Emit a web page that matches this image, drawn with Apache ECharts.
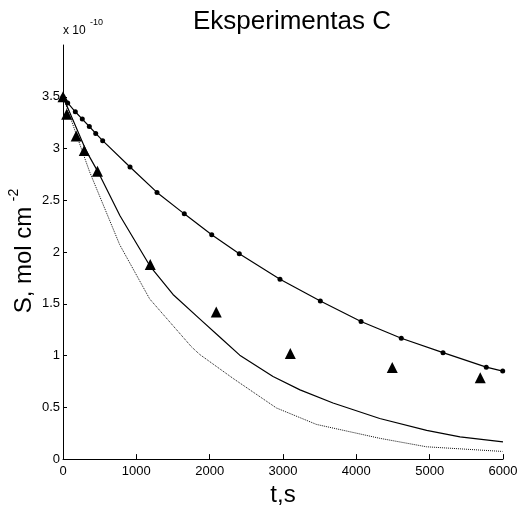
<!DOCTYPE html>
<html>
<head>
<meta charset="utf-8">
<script src="https://cdn.jsdelivr.net/npm/echarts@6/dist/echarts.min.js"></script>
<style>html,body{margin:0;padding:0;background:#fff;}#c{width:523px;height:512px;}</style>
</head>
<body>
<div id="c"></div>
<script>
// Triangles (measured points)
const triT = [0, 50, 180, 290, 470, 1190, 2090, 3100, 4490, 5690];
const triS = [3.5, 3.33, 3.12, 2.98, 2.78, 1.88, 1.42, 1.02, 0.885, 0.785];
// Dots with connecting line
const dotT = [0, 64, 168, 263, 359, 446, 541, 914, 1282, 1654, 2028, 2404, 2959, 3509, 4064, 4613, 5182, 5772, 5996];
const dotS = [3.5, 3.44, 3.355, 3.284, 3.213, 3.146, 3.076, 2.821, 2.576, 2.369, 2.168, 1.983, 1.738, 1.527, 1.329, 1.167, 1.028, 0.888, 0.85];
// Solid curve
const solT = [0, 314, 481, 777, 1186, 1500, 1864, 2137, 2410, 2864, 3232, 3682, 4319, 4959, 5414, 6000];
const solS = [3.5, 2.98, 2.77, 2.35, 1.865, 1.59, 1.355, 1.18, 1.004, 0.798, 0.669, 0.542, 0.392, 0.277, 0.214, 0.166];
// Dotted curve
const dotLineT = [0, 265, 364, 773, 1182, 1751, 1864, 2318, 2910, 3456, 4319, 4956, 5992];
const dotLineS = [3.5, 2.97, 2.773, 2.071, 1.547, 1.085, 1.011, 0.78, 0.494, 0.335, 0.201, 0.119, 0.074];
// Tick labels
const yTicks = [0, 0.5, 1, 1.5, 2, 2.5, 3, 3.5];
const xTicks = [0, 1000, 2000, 3000, 4000, 5000, 6000];

const zip = (a, b) => a.map((v, i) => [v, b[i]]);
const FONT = 'Liberation Sans, Arial, Helvetica, sans-serif';

const chart = echarts.init(document.getElementById('c'), null, {renderer: 'canvas'});
chart.setOption({
  backgroundColor: '#fff',
  animation: false,
  title: {
    text: 'Eksperimentas C',
    left: 193, top: 9, padding: 0,
    textStyle: {fontFamily: FONT, fontSize: 26, fontWeight: 'normal', color: '#000'}
  },
  grid: {left: 63, right: 20, top: 45, bottom: 50},
  xAxis: {
    type: 'value', min: 0, max: 6000, interval: 1000,
    name: 't,s', nameLocation: 'middle', nameGap: 21,
    nameTextStyle: {fontFamily: FONT, fontSize: 24, color: '#000'},
    axisLine: {show: true, onZero: false, lineStyle: {color: '#000', width: 1}},
    axisTick: {show: true, inside: true, length: 5, lineStyle: {color: '#000'}, customValues: xTicks},
    axisLabel: {fontFamily: FONT, fontSize: 13, color: '#000', margin: 6, customValues: xTicks,
      formatter: v => String(v)},
    splitLine: {show: false}
  },
  yAxis: {
    type: 'value', min: 0, max: 4, interval: 0.5,
    axisLine: {show: true, onZero: false, lineStyle: {color: '#000', width: 1}},
    axisTick: {show: true, inside: true, length: 4, lineStyle: {color: '#000'}, customValues: yTicks},
    axisLabel: {fontFamily: FONT, fontSize: 13, color: '#000', margin: 3, customValues: yTicks,
      formatter: v => String(v)},
    splitLine: {show: false}
  },
  graphic: [
    {type: 'text', x: 24, y: 260, rotation: Math.PI / 2,
     style: {text: 'S, mol cm', font: '24px ' + FONT, fill: '#000', textAlign: 'center', textVerticalAlign: 'middle'}},
    {type: 'text', x: 14, y: 195, rotation: Math.PI / 2,
     style: {text: '-2', font: '14px ' + FONT, fill: '#000', textAlign: 'center', textVerticalAlign: 'middle'}},
    {type: 'text', x: 63, y: 31,
     style: {text: 'x 10', font: '12px ' + FONT, fill: '#000', textAlign: 'left', textVerticalAlign: 'middle'}},
    {type: 'text', x: 90, y: 23,
     style: {text: '-10', font: '9px ' + FONT, fill: '#000', textAlign: 'left', textVerticalAlign: 'middle'}}
  ],
  series: [
    {type: 'line', data: zip(dotLineT, dotLineS), showSymbol: false, symbol: 'none',
     lineStyle: {color: '#111', width: 1, type: [1, 1]}, z: 2},
    {type: 'line', data: zip(solT, solS), showSymbol: false, symbol: 'none',
     lineStyle: {color: '#000', width: 1.2}, z: 3},
    {type: 'line', data: zip(dotT, dotS), symbol: 'circle', symbolSize: 5, showSymbol: true,
     itemStyle: {color: '#000'}, lineStyle: {color: '#000', width: 1.2}, z: 4},
    {type: 'scatter', data: zip(triT, triS), symbol: 'triangle', symbolSize: 11,
     itemStyle: {color: '#000', opacity: 1}, z: 5}
  ]
});
</script>
</body>
</html>
